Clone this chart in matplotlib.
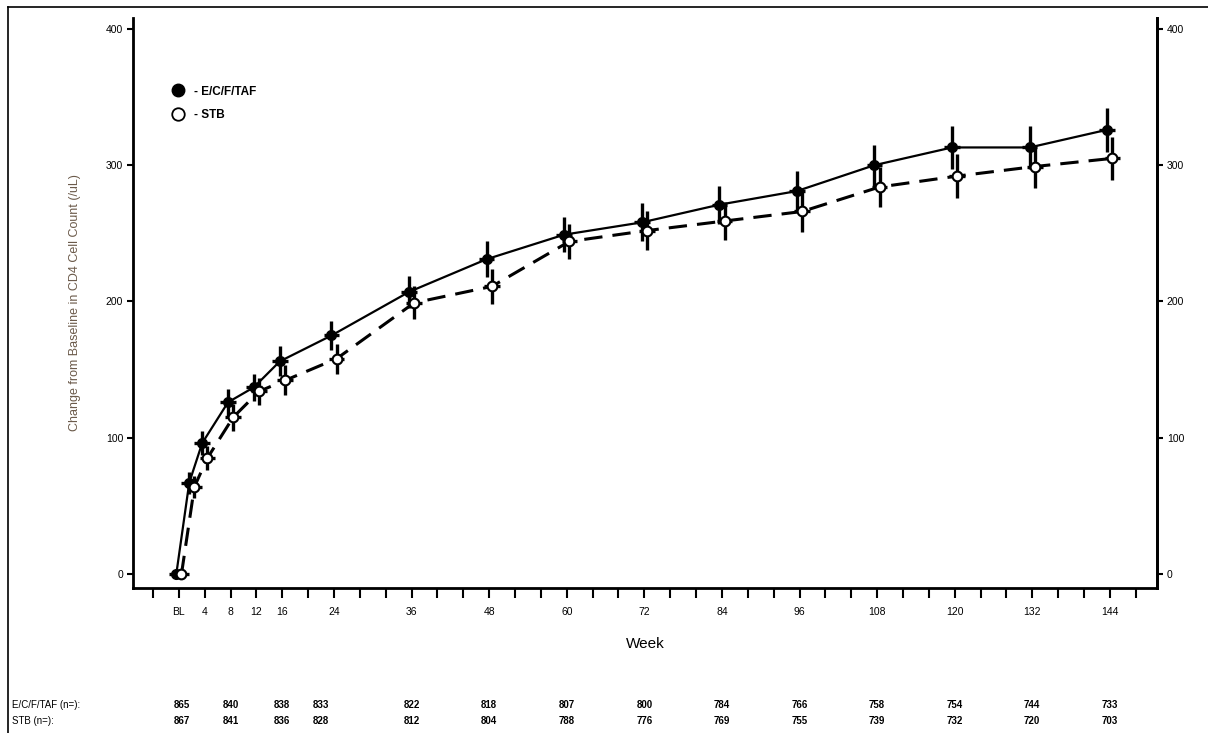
import matplotlib.pyplot as plt
from matplotlib.lines import Line2D
import numpy as np

plt.rcParams['font.family'] = ['Liberation Sans', 'DejaVu Sans']

# data
weeks = [0, 2, 4, 8, 12, 16, 24, 36, 48, 60, 72, 84, 96, 108, 120, 132, 144]
ecf_mean = [0, 67, 96, 126, 137, 156, 175, 207, 231, 249, 258, 271, 281, 300, 313, 313, 326]
ecf_err = [2, 8, 9, 10, 10, 11, 11, 12, 13, 13, 14, 14, 15, 15, 16, 16, 16]
stb_mean = [0, 64, 85, 115, 134, 142, 158, 199, 211, 244, 252, 259, 266, 284, 292, 299, 305]
stb_err = [2, 8, 9, 10, 10, 11, 11, 12, 13, 13, 14, 14, 15, 15, 16, 16, 16]

label_weeks = [0, 4, 8, 12, 16, 24, 36, 48, 60, 72, 84, 96, 108, 120, 132, 144]
label_text = ['BL', '4', '8', '12', '16', '24', '36', '48', '60', '72', '84', '96',
              '108', '120', '132', '144']

n_weeks = [0.5, 8, 16, 22, 36, 48, 60, 72, 84, 96, 108, 120, 132, 144]
n_ecf = [865, 840, 838, 833, 822, 818, 807, 800, 784, 766, 758, 754, 744, 733]
n_stb = [867, 841, 836, 828, 812, 804, 788, 776, 769, 755, 739, 732, 720, 703]

fig = plt.figure(figsize=(12.08, 7.33), dpi=100)
ax = fig.add_axes([133 / 1208, 1 - 588 / 733, 1024 / 1208, 570 / 733])

x = np.array(weeks, dtype=float)
ax.errorbar(x - 0.4, ecf_mean, yerr=ecf_err, xerr=1.2, color='black', linestyle='solid',
            linewidth=1.6, marker='o', markersize=7, markerfacecolor='black',
            elinewidth=2.4, capsize=0, zorder=3)
ax.errorbar(x + 0.4, stb_mean, yerr=stb_err, xerr=1.2, color='black', linestyle=(0, (6, 3.3)),
            linewidth=2.2, marker='o', markersize=7, markerfacecolor='white',
            markeredgewidth=1.5, elinewidth=2.4, capsize=0, zorder=3)

ax.set_xlim(-7.1, 151.3)
ax.set_ylim(-10.3, 408)

ticks = np.arange(-4, 149, 4)
ax.set_xticks(ticks)
labels = []
for t in ticks:
    labels.append(label_text[label_weeks.index(t)] if t in label_weeks else '')
ax.set_xticklabels(labels)
ax.set_yticks([0, 100, 200, 300, 400])

for side in ['left', 'bottom', 'right']:
    ax.spines[side].set_linewidth(2)
ax.spines['top'].set_visible(False)
ax.tick_params(axis='x', length=7, width=1.5, labelsize=7.5, pad=7, colors='black')
ax.tick_params(axis='y', length=4, width=1.5, labelsize=7.5, pad=3)

ax2 = ax.twinx()
ax2.set_ylim(ax.get_ylim())
ax2.set_yticks([0, 100, 200, 300, 400])
ax2.spines['right'].set_linewidth(2)
ax2.spines['top'].set_visible(False)
ax2.tick_params(axis='y', length=4, width=1.5, labelsize=7.5, pad=3)

ax.set_xlabel('Week', fontsize=11, labelpad=14)
ax.set_ylabel('Change from Baseline in CD4 Cell Count (/uL)', fontsize=9, color='#6b5a4a', labelpad=18)

handles = [Line2D([], [], linestyle='none', marker='o', markersize=9, color='black',
                  markerfacecolor='black'),
           Line2D([], [], linestyle='none', marker='o', markersize=9, color='black',
                  markerfacecolor='white', markeredgewidth=1.3)]
ax.legend(handles, ['- E/C/F/TAF', '- STB'], loc='upper left',
          bbox_to_anchor=(0.022, 0.9), frameon=False, handletextpad=0.4,
          labelspacing=0.95, prop={'weight': 'bold', 'size': 8.5})

# number-at-risk table
tr = ax.get_xaxis_transform()
fig.text(12 / 1208, 1 - 705 / 733, 'E/C/F/TAF (n=):', fontsize=7, va='center')
fig.text(12 / 1208, 1 - 721 / 733, 'STB (n=):', fontsize=7, va='center')
y1 = (1 - 705 / 733 - ax.get_position().y0) / ax.get_position().height
y2 = (1 - 721 / 733 - ax.get_position().y0) / ax.get_position().height
for w, a, b in zip(n_weeks, n_ecf, n_stb):
    ax.text(w, y1, str(a), transform=tr, fontsize=7, ha='center', va='center', fontweight='bold')
    ax.text(w, y2, str(b), transform=tr, fontsize=7, ha='center', va='center', fontweight='bold')

# partial frame around figure
fig.add_artist(Line2D([8 / 1208, 8 / 1208], [0, 1 - 7 / 733], color='black', linewidth=1.2))
fig.add_artist(Line2D([8 / 1208, 1], [1 - 7 / 733, 1 - 7 / 733], color='black', linewidth=1.2))

fig.savefig('out.png', dpi=100)
